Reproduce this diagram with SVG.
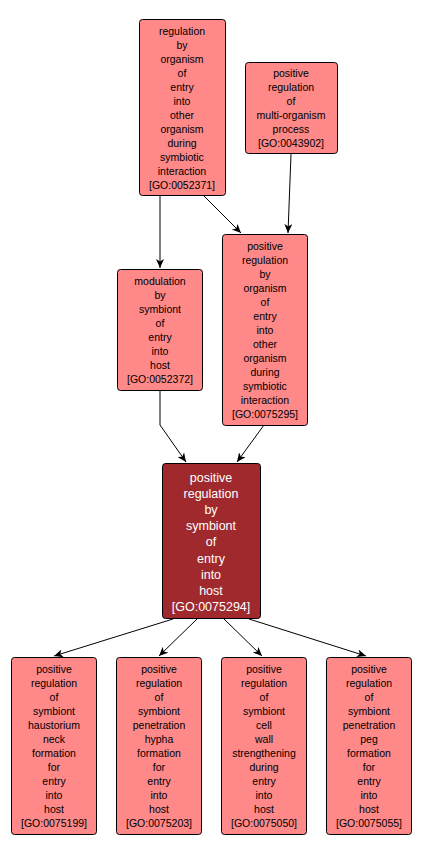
<svg xmlns="http://www.w3.org/2000/svg" width="421" height="855" viewBox="0 0 421 855">
<defs>
<style>
.n rect{fill:#ff8888;stroke:#000;stroke-width:1}
.n text{font-family:"Liberation Sans",Arial,sans-serif;font-size:10.5px;fill:#000;text-anchor:middle}
.d rect{fill:#a0292d;stroke:#000;stroke-width:1}
.d text{font-family:"Liberation Sans",Arial,sans-serif;font-size:12.5px;fill:#fff;text-anchor:middle}
.e path{fill:none;stroke:#000;stroke-width:1}
</style>
<marker id="ah" markerWidth="10" markerHeight="10" refX="9" refY="4" orient="auto" markerUnits="userSpaceOnUse">
<path d="M0,0 L9,4 L0,8 L2.5,4 Z" fill="#000"/>
</marker>
</defs>
<rect width="421" height="855" fill="#fff"/>
<g id="edges" class="e">
<path d="M160,196 L160,268" marker-end="url(#ah)"/>
<path d="M204,196 L241,233" marker-end="url(#ah)"/>
<path d="M291,154 L288,233" marker-end="url(#ah)"/>
<path d="M160,391 L160,425 L186,462" marker-end="url(#ah)"/>
<path d="M264,425 L237,462" marker-end="url(#ah)"/>
<path d="M173,619 L54,656" marker-end="url(#ah)"/>
<path d="M197,619 L159,656" marker-end="url(#ah)"/>
<path d="M224,619 L262,656" marker-end="url(#ah)"/>
<path d="M249,619 L366,656" marker-end="url(#ah)"/>
</g>
<g id="GO0052371" class="n">
<rect x="139.5" y="19.5" width="86" height="176" rx="3"/>
<text x="182" y="35">regulation</text>
<text x="182" y="49">by</text>
<text x="182" y="63">organism</text>
<text x="182" y="77">of</text>
<text x="182" y="91">entry</text>
<text x="182" y="105">into</text>
<text x="182" y="119">other</text>
<text x="182" y="133">organism</text>
<text x="182" y="147">during</text>
<text x="182" y="161">symbiotic</text>
<text x="182" y="175">interaction</text>
<text x="182" y="189">[GO:0052371]</text>
</g>
<g id="GO0043902" class="n">
<rect x="245.5" y="62.5" width="92" height="91" rx="3"/>
<text x="291" y="77">positive</text>
<text x="291" y="91">regulation</text>
<text x="291" y="105">of</text>
<text x="291" y="119">multi-organism</text>
<text x="291" y="133">process</text>
<text x="291" y="147">[GO:0043902]</text>
</g>
<g id="GO0052372" class="n">
<rect x="117.5" y="269.5" width="85" height="121" rx="3"/>
<text x="160" y="285">modulation</text>
<text x="160" y="299">by</text>
<text x="160" y="313">symbiont</text>
<text x="160" y="327">of</text>
<text x="160" y="341">entry</text>
<text x="160" y="355">into</text>
<text x="160" y="369">host</text>
<text x="160" y="383">[GO:0052372]</text>
</g>
<g id="GO0075295" class="n">
<rect x="222.5" y="234.5" width="85" height="191" rx="3"/>
<text x="265" y="250">positive</text>
<text x="265" y="264">regulation</text>
<text x="265" y="278">by</text>
<text x="265" y="292">organism</text>
<text x="265" y="306">of</text>
<text x="265" y="320">entry</text>
<text x="265" y="334">into</text>
<text x="265" y="348">other</text>
<text x="265" y="362">organism</text>
<text x="265" y="376">during</text>
<text x="265" y="390">symbiotic</text>
<text x="265" y="404">interaction</text>
<text x="265" y="418">[GO:0075295]</text>
</g>
<g id="GO0075294" class="d">
<rect x="162.5" y="463.5" width="98" height="155" rx="3"/>
<text x="211" y="481.5">positive</text>
<text x="211" y="497.7">regulation</text>
<text x="211" y="513.9">by</text>
<text x="211" y="530.1">symbiont</text>
<text x="211" y="546.3">of</text>
<text x="211" y="562.5">entry</text>
<text x="211" y="578.7">into</text>
<text x="211" y="594.9">host</text>
<text x="211" y="611.1">[GO:0075294]</text>
</g>
<g id="GO0075199" class="n">
<rect x="11.5" y="657.5" width="85" height="177" rx="3"/>
<text x="54" y="673">positive</text>
<text x="54" y="687">regulation</text>
<text x="54" y="701">of</text>
<text x="54" y="715">symbiont</text>
<text x="54" y="729">haustorium</text>
<text x="54" y="743">neck</text>
<text x="54" y="757">formation</text>
<text x="54" y="771">for</text>
<text x="54" y="785">entry</text>
<text x="54" y="799">into</text>
<text x="54" y="813">host</text>
<text x="54" y="827">[GO:0075199]</text>
</g>
<g id="GO0075203" class="n">
<rect x="116.5" y="657.5" width="85" height="177" rx="3"/>
<text x="159" y="673">positive</text>
<text x="159" y="687">regulation</text>
<text x="159" y="701">of</text>
<text x="159" y="715">symbiont</text>
<text x="159" y="729">penetration</text>
<text x="159" y="743">hypha</text>
<text x="159" y="757">formation</text>
<text x="159" y="771">for</text>
<text x="159" y="785">entry</text>
<text x="159" y="799">into</text>
<text x="159" y="813">host</text>
<text x="159" y="827">[GO:0075203]</text>
</g>
<g id="GO0075050" class="n">
<rect x="221.5" y="657.5" width="85" height="177" rx="3"/>
<text x="264" y="673">positive</text>
<text x="264" y="687">regulation</text>
<text x="264" y="701">of</text>
<text x="264" y="715">symbiont</text>
<text x="264" y="729">cell</text>
<text x="264" y="743">wall</text>
<text x="264" y="757">strengthening</text>
<text x="264" y="771">during</text>
<text x="264" y="785">entry</text>
<text x="264" y="799">into</text>
<text x="264" y="813">host</text>
<text x="264" y="827">[GO:0075050]</text>
</g>
<g id="GO0075055" class="n">
<rect x="326.5" y="657.5" width="85" height="177" rx="3"/>
<text x="369" y="673">positive</text>
<text x="369" y="687">regulation</text>
<text x="369" y="701">of</text>
<text x="369" y="715">symbiont</text>
<text x="369" y="729">penetration</text>
<text x="369" y="743">peg</text>
<text x="369" y="757">formation</text>
<text x="369" y="771">for</text>
<text x="369" y="785">entry</text>
<text x="369" y="799">into</text>
<text x="369" y="813">host</text>
<text x="369" y="827">[GO:0075055]</text>
</g>
</svg>
